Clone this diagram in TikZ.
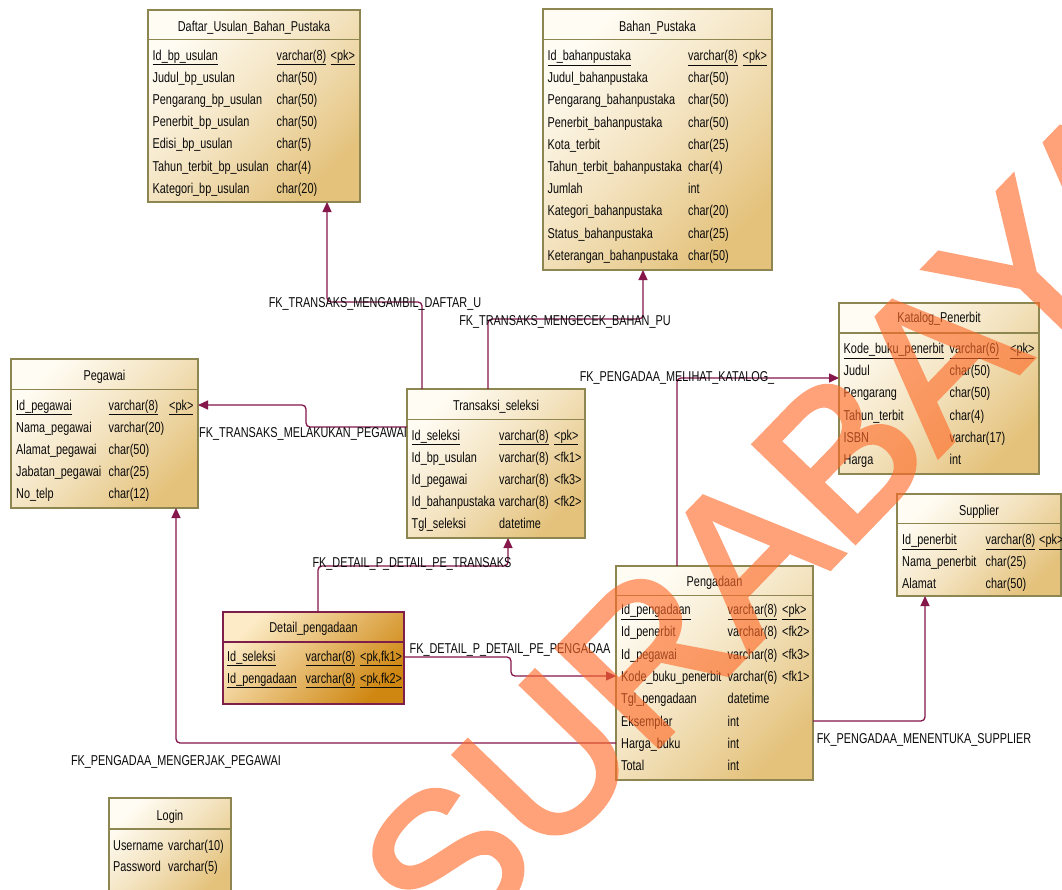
\documentclass[tikz,border=0pt]{standalone}
\usepackage{fontspec}
\setmainfont{Liberation Sans}[FakeStretch=0.76]
\newfontfamily\wmfont{Liberation Sans}[FakeBold=2.5]
\usetikzlibrary{arrows.meta}
\definecolor{tblb}{HTML}{8E8650}
\definecolor{tbll}{HTML}{FFFCF3}
\definecolor{tbld}{HTML}{E4C27C}
\definecolor{detb}{HTML}{7E1E4A}
\definecolor{detl}{HTML}{FCEBC6}
\definecolor{detd}{HTML}{CF8712}
\definecolor{fkc}{HTML}{85174B}
\definecolor{txt}{HTML}{0A0A0A}
\definecolor{wmc}{HTML}{FF6A28}
\newcommand\erfont{\fontsize{14.3}{16}\selectfont}
\newcommand\uln[1]{\underline{#1}}
\begin{document}
\begin{tikzpicture}[x=1pt,y=-1pt,
  tbl/.style={draw=tblb, line width=1.6pt, top color=tbll, bottom color=tbld, middle color=tbll!55!tbld, shading angle=45, anchor=north west, inner sep=0pt, outer sep=0pt},
  dettbl/.style={draw=detb, line width=1.6pt, top color=detl, bottom color=detd, middle color=detl!50!detd, shading angle=45, anchor=north west, inner sep=0pt, outer sep=0pt},
  sepline/.style={draw=tblb, line width=1.4pt},
  detsep/.style={draw=detb, line width=1.4pt},
  cell/.style={anchor=base west, inner sep=0pt, font=\erfont, text=txt},
  ttl/.style={anchor=base, inner sep=0pt, font=\erfont, text=txt},
  lab/.style={anchor=base, inner sep=0pt, font=\erfont, text=txt},
  fk/.style={draw=fkc, line width=1.3pt, rounded corners=4pt, -{Triangle[length=10pt,width=9pt]}},
  wm/.style={inner sep=0pt, font=\wmfont\fontsize{204}{204}\selectfont, text=wmc}
]
\useasboundingbox[fill=white] (0,0) rectangle (1062,889);

% ---------- Daftar_Usulan_Bahan_Pustaka
\node[tbl, minimum width=212pt, minimum height=192pt] (daf) at (148,10) {};
\draw[sepline] ([yshift=-29.5pt]daf.north west) -- ([yshift=-29.5pt]daf.north east);
\node[ttl] (daf-t) at (254,31) {Daftar\_Usulan\_Bahan\_Pustaka};
\foreach \a/\b/\c [count=\i from 0] in {
  {\uln{Id\_bp\_usulan}}/{\uln{varchar(8)}}/{\uln{<pk>}},
  Judul\_bp\_usulan/char(50)/{},
  Pengarang\_bp\_usulan/char(50)/{},
  Penerbit\_bp\_usulan/char(50)/{},
  Edisi\_bp\_usulan/char(5)/{},
  Tahun\_terbit\_bp\_usulan/char(4)/{},
  Kategori\_bp\_usulan/char(20)/{}}{
  \node[cell] (daf-\i a) at (152.5,60+22.2*\i) {\a};
  \node[cell] (daf-\i b) at (276.5,60+22.2*\i) {\b};
  \node[cell] (daf-\i c) at (330.5,60+22.2*\i) {\c};
}

% ---------- Bahan_Pustaka
\node[tbl, minimum width=229pt, minimum height=261pt] (bp) at (543,9) {};
\draw[sepline] ([yshift=-30.5pt]bp.north west) -- ([yshift=-30.5pt]bp.north east);
\node[ttl] (bp-t) at (657.5,31.5) {Bahan\_Pustaka};
\foreach \a/\b/\c [count=\i from 0] in {
  {\uln{Id\_bahanpustaka}}/{\uln{varchar(8)}}/{\uln{<pk>}},
  Judul\_bahanpustaka/char(50)/{},
  Pengarang\_bahanpustaka/char(50)/{},
  Penerbit\_bahanpustaka/char(50)/{},
  Kota\_terbit/char(25)/{},
  Tahun\_terbit\_bahanpustaka/char(4)/{},
  Jumlah/int/{},
  Kategori\_bahanpustaka/char(20)/{},
  Status\_bahanpustaka/char(25)/{},
  Keterangan\_bahanpustaka/char(50)/{}}{
  \node[cell] (bp-\i a) at (547.5,60.5+22.2*\i) {\a};
  \node[cell] (bp-\i b) at (688,60.5+22.2*\i) {\b};
  \node[cell] (bp-\i c) at (742.5,60.5+22.2*\i) {\c};
}

% ---------- Pegawai
\node[tbl, minimum width=187pt, minimum height=149pt] (peg) at (11,359) {};
\draw[sepline] ([yshift=-30.5pt]peg.north west) -- ([yshift=-30.5pt]peg.north east);
\node[ttl] (peg-t) at (104.5,380.5) {Pegawai};
\foreach \a/\b/\c [count=\i from 0] in {
  {\uln{Id\_pegawai}}/{\uln{varchar(8)}}/{\uln{<pk>}},
  Nama\_pegawai/varchar(20)/{},
  Alamat\_pegawai/char(50)/{},
  Jabatan\_pegawai/char(25)/{},
  No\_telp/char(12)/{}}{
  \node[cell] (peg-\i a) at (16,410+22.2*\i) {\a};
  \node[cell] (peg-\i b) at (108.5,410+22.2*\i) {\b};
  \node[cell] (peg-\i c) at (169,410+22.2*\i) {\c};
}

% ---------- Transaksi_seleksi
\node[tbl, minimum width=178pt, minimum height=149pt] (trans) at (407,389) {};
\draw[sepline] ([yshift=-30.5pt]trans.north west) -- ([yshift=-30.5pt]trans.north east);
\node[ttl] (trans-t) at (496,410) {Transaksi\_seleksi};
\foreach \a/\b/\c [count=\i from 0] in {
  {\uln{Id\_seleksi}}/{\uln{varchar(8)}}/{\uln{<pk>}},
  Id\_bp\_usulan/varchar(8)/{<fk1>},
  Id\_pegawai/varchar(8)/{<fk3>},
  Id\_bahanpustaka/varchar(8)/{<fk2>},
  Tgl\_seleksi/datetime/{}}{
  \node[cell] (trans-\i a) at (411.5,440+22.2*\i) {\a};
  \node[cell] (trans-\i b) at (499,440+22.2*\i) {\b};
  \node[cell] (trans-\i c) at (554,440+22.2*\i) {\c};
}

% ---------- Katalog_Penerbit
\node[tbl, minimum width=200pt, minimum height=171pt] (kat) at (839,303) {};
\draw[sepline] ([yshift=-30pt]kat.north west) -- ([yshift=-30pt]kat.north east);
\node[ttl] (kat-t) at (939,322) {Katalog\_Penerbit};
\foreach \a/\b/\c [count=\i from 0] in {
  {\uln{Kode\_buku\_penerbit}}/{\uln{varchar(6)}}/{\uln{<pk>}},
  Judul/char(50)/{},
  Pengarang/char(50)/{},
  Tahun\_terbit/char(4)/{},
  ISBN/varchar(17)/{},
  Harga/int/{}}{
  \node[cell] (kat-\i a) at (843.5,353.5+22.2*\i) {\a};
  \node[cell] (kat-\i b) at (949.5,353.5+22.2*\i) {\b};
  \node[cell] (kat-\i c) at (1010,353.5+22.2*\i) {\c};
}

% ---------- Supplier
\node[tbl, minimum width=164pt, minimum height=102pt] (sup) at (897,494) {};
\draw[sepline] ([yshift=-29.5pt]sup.north west) -- ([yshift=-29.5pt]sup.north east);
\node[ttl] (sup-t) at (979,515) {Supplier};
\foreach \a/\b/\c [count=\i from 0] in {
  {\uln{Id\_penerbit}}/{\uln{varchar(8)}}/{\uln{<pk>}},
  Nama\_penerbit/char(25)/{},
  Alamat/char(50)/{}}{
  \node[cell] (sup-\i a) at (902,544.5+22.2*\i) {\a};
  \node[cell] (sup-\i b) at (985.5,544.5+22.2*\i) {\b};
  \node[cell] (sup-\i c) at (1039,544.5+22.2*\i) {\c};
}

% ---------- Detail_pengadaan
\node[dettbl, minimum width=181pt, minimum height=92pt] (det) at (223,612) {};
\draw[detsep] ([yshift=-30pt]det.north west) -- ([yshift=-30pt]det.north east);
\node[ttl] (det-t) at (313.5,632) {Detail\_pengadaan};
\foreach \a/\b/\c [count=\i from 0] in {
  {\uln{Id\_seleksi}}/{\uln{varchar(8)}}/{\uln{<pk,fk1>}},
  {\uln{Id\_pengadaan}}/{\uln{varchar(8)}}/{\uln{<pk,fk2>}}}{
  \node[cell] (det-\i a) at (227,661+22*\i) {\a};
  \node[cell] (det-\i b) at (305.5,661+22*\i) {\b};
  \node[cell] (det-\i c) at (360,661+22*\i) {\c};
}

% ---------- Pengadaan
\node[tbl, minimum width=197pt, minimum height=214pt] (pen) at (616,566) {};
\draw[sepline] ([yshift=-29.5pt]pen.north west) -- ([yshift=-29.5pt]pen.north east);
\node[ttl] (pen-t) at (714.5,586.5) {Pengadaan};
\foreach \a/\b/\c [count=\i from 0] in {
  {\uln{Id\_pengadaan}}/{\uln{varchar(8)}}/{\uln{<pk>}},
  Id\_penerbit/varchar(8)/{<fk2>},
  Id\_pegawai/varchar(8)/{<fk3>},
  Kode\_buku\_penerbit/varchar(6)/{<fk1>},
  Tgl\_pengadaan/datetime/{},
  Eksemplar/int/{},
  Harga\_buku/int/{},
  Total/int/{}}{
  \node[cell] (pen-\i a) at (621,614.5+22.3*\i) {\a};
  \node[cell] (pen-\i b) at (727.5,614.5+22.3*\i) {\b};
  \node[cell] (pen-\i c) at (782,614.5+22.3*\i) {\c};
}

% ---------- Login
\node[tbl, minimum width=122pt, minimum height=100pt] (log) at (109,798) {};
\draw[sepline] ([yshift=-31pt]log.north west) -- ([yshift=-31pt]log.north east);
\node[ttl] (log-t) at (170,820) {Login};
\node[cell] (log-0a) at (113,850) {Username};
\node[cell] (log-0b) at (168,850) {varchar(10)};
\node[cell] (log-1a) at (113,871) {Password};
\node[cell] (log-1b) at (168,871) {varchar(5)};

% ---------- connectors
\draw[fk] ([xshift=15pt]trans.north west) -- ++(0,-87) -| ([xshift=179pt]daf.south west);
\draw[fk] ([xshift=81pt]trans.north west) -- ++(0,-70) -| ([xshift=100pt]bp.south west);
\draw[fk] ([yshift=-38pt]trans.north west) -- ++(-101,0) |- ([yshift=-46pt]peg.north east);
\draw[fk] ([xshift=95pt]det.north west) -- ++(0,-46) -| ([xshift=101pt]trans.south west);
\draw[fk] ([yshift=-45pt]det.north east) -- ++(107,0) |- ([yshift=-110pt]pen.north west);
\draw[fk] ([xshift=61pt]pen.north west) |- ([yshift=-75pt]kat.north west);
\draw[fk] ([yshift=-155pt]pen.north east) -| ([xshift=28pt]sup.south west);
\draw[fk] ([yshift=-177pt]pen.north west) -| ([xshift=165pt]peg.south west);

% ---------- connector labels
\node[lab] (l1) at (375,307) {FK\_TRANSAKS\_MENGAMBIL\_DAFTAR\_U};
\node[lab] (l2) at (565,325) {FK\_TRANSAKS\_MENGECEK\_BAHAN\_PU};
\node[lab] (l3) at (303,437) {FK\_TRANSAKS\_MELAKUKAN\_PEGAWAI};
\node[lab] (l4) at (412,567) {FK\_DETAIL\_P\_DETAIL\_PE\_TRANSAKS};
\node[lab] (l5) at (510,653) {FK\_DETAIL\_P\_DETAIL\_PE\_PENGADAA};
\node[lab] (l6) at (677,381) {FK\_PENGADAA\_MELIHAT\_KATALOG\_};
\node[lab] (l7) at (924,743) {FK\_PENGADAA\_MENENTUKA\_SUPPLIER};
\node[lab] (l8) at (176,765) {FK\_PENGADAA\_MENGERJAK\_PEGAWAI};

% ---------- watermark
\begin{scope}[transparency group, opacity=0.62]
\node[wm, rotate=46] (wm) at (775,524) {SURABAYA};
\end{scope}
\end{tikzpicture}
\end{document}
